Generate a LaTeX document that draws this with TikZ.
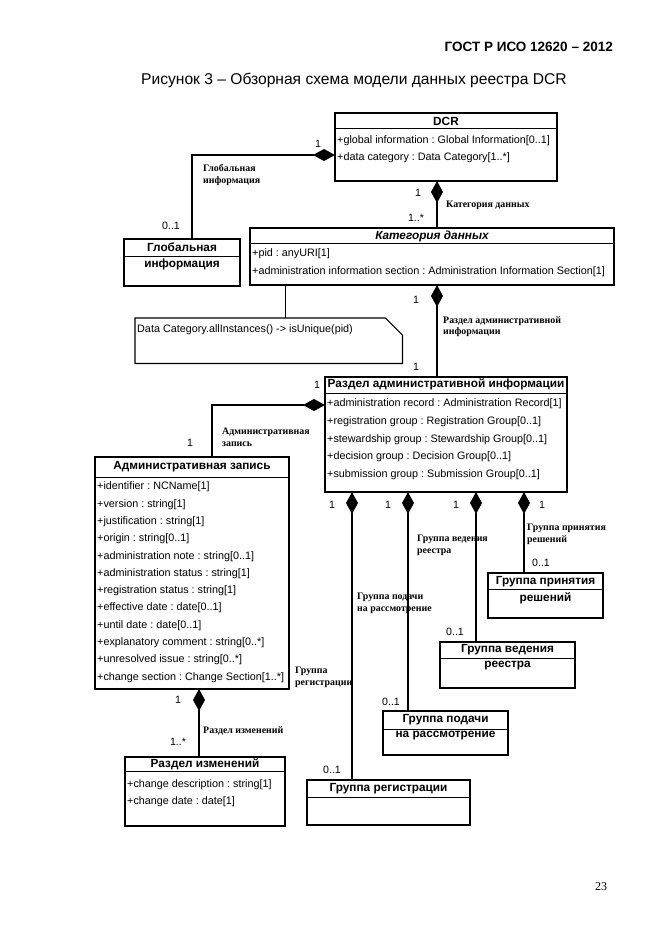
\documentclass[tikz,border=0pt]{standalone}
\usepackage{fontspec}
\setmainfont{Liberation Serif}
\setsansfont{Liberation Sans}
\usetikzlibrary{arrows.meta,calc}
\frenchspacing
\newcommand\attrf{\fontsize{10.8}{12}\selectfont\sffamily\frenchspacing}
\newcommand\titf{\fontsize{11.8}{13}\selectfont\sffamily\bfseries}
\newcommand\lblf{\fontsize{9.9}{11.8}\selectfont\rmfamily\bfseries}
\newcommand\multf{\fontsize{10.6}{12}\selectfont\sffamily}
\newcommand\headf{\fontsize{13.5}{15}\selectfont\sffamily\bfseries}
\newcommand\capf{\fontsize{15.6}{18}\selectfont\sffamily}
\newcommand\pagenf{\fontsize{12}{14}\selectfont\rmfamily}
\begin{document}
\begin{tikzpicture}[x=1pt,y=-1pt,
  box/.style={draw, line width=1.4pt, anchor=north west, inner sep=0pt, outer sep=0pt},
  sepl/.style={line width=1pt},
  attr/.style={font=\attrf, anchor=west, inner sep=0pt},
  ttl/.style={font=\titf, inner sep=0pt},
  lbl/.style={font=\lblf, anchor=north west, inner sep=0pt, align=left},
  mult/.style={font=\multf, inner sep=0pt},
  conn/.style={line width=1.3pt},
  comp/.style={conn, {Diamond[length=22pt,width=12pt]}-}
]
\fill[white] (0,0) rectangle (661,935);
\useasboundingbox (0,0) rectangle (661,935);

% header & caption
\node[font=\headf, anchor=east, inner sep=0pt] (hdr) at (613,47) {ГОСТ Р ИСО 12620 – 2012};
\node[font=\capf, anchor=west, inner sep=0pt] (cap) at (141,80) {Рисунок 3 – Обзорная схема модели данных реестра DCR};
\node[font=\pagenf, inner sep=0pt] (pgn) at (601,887) {23};

% DCR
\node[box, minimum width=222pt, minimum height=68pt] (dcr) at (335,113) {};
\draw[sepl] ($(dcr.north west)+(0,15)$) -- ($(dcr.north east)+(0,15)$);
\node[ttl] (dcrt) at ($(dcr.north)+(0,8)$) {DCR};
\node[attr] (dcra1) at ($(dcr.north west)+(2,28)$) {+global information : Global Information[0..1]};
\node[attr] (dcra2) at ($(dcr.north west)+(2,45)$) {+data category : Data Category[1..*]};

% Global information
\node[box, minimum width=116pt, minimum height=47pt] (glob) at (124,239) {};
\draw[sepl] ($(glob.north west)+(0,17)$) -- ($(glob.north east)+(0,17)$);
\node[ttl] (globt1) at ($(glob.north)+(0,8.5)$) {Глобальная};
\node[ttl] (globt2) at ($(glob.north)+(0,25.5)$) {информация};

% Data category
\node[box, minimum width=364pt, minimum height=57pt] (cat) at (250,228) {};
\draw[sepl] ($(cat.north west)+(0,15)$) -- ($(cat.north east)+(0,15)$);
\node[ttl, font=\titf\itshape] (catt) at ($(cat.north)+(0,8)$) {Категория данных};
\node[attr] (cata1) at ($(cat.north west)+(2,26)$) {+pid : anyURI[1]};
\node[attr] (cata2) at ($(cat.north west)+(2,44)$) {+administration information section : Administration Information Section[1]};

% Note
\node[anchor=north west, minimum width=267pt, minimum height=45pt, inner sep=0pt] (note) at (135,318) {};
\draw[line width=1.2pt] (note.north west) -- ($(note.north east)+(-17,0)$) -- ($(note.north east)+(0,17)$) -- (note.south east) -- (note.south west) -- cycle;
\node[attr] (notet) at ($(note.north west)+(2,12)$) {Data Category.allInstances() -> isUnique(pid)};

% Administration information section
\node[box, minimum width=242pt, minimum height=115pt] (ais) at (325,377) {};
\draw[sepl] ($(ais.north west)+(0,16)$) -- ($(ais.north east)+(0,16)$);
\node[ttl] (aist) at ($(ais.north)+(0,7.5)$) {Раздел административной информации};
\node[attr] (aisa1) at ($(ais.north west)+(2,27)$) {+administration record : Administration Record[1]};
\node[attr] (aisa2) at ($(ais.north west)+(2,45)$) {+registration group : Registration Group[0..1]};
\node[attr] (aisa3) at ($(ais.north west)+(2,63)$) {+stewardship group : Stewardship Group[0..1]};
\node[attr] (aisa4) at ($(ais.north west)+(2,80)$) {+decision group : Decision Group[0..1]};
\node[attr] (aisa5) at ($(ais.north west)+(2,98)$) {+submission group : Submission Group[0..1]};

% Administration record
\node[box, minimum width=194pt, minimum height=232pt] (arec) at (95,457) {};
\draw[sepl] ($(arec.north west)+(0,20)$) -- ($(arec.north east)+(0,20)$);
\node[ttl] (arect) at ($(arec.north)+(0,10)$) {Административная запись};
\node[attr] (areca1) at ($(arec.north west)+(2,30)$) {+identifier : NCName[1]};
\node[attr] (areca2) at ($(arec.north west)+(2,47.3)$) {+version : string[1]};
\node[attr] (areca3) at ($(arec.north west)+(2,64.6)$) {+justification : string[1]};
\node[attr] (areca4) at ($(arec.north west)+(2,81.9)$) {+origin : string[0..1]};
\node[attr] (areca5) at ($(arec.north west)+(2,99.2)$) {+administration note : string[0..1]};
\node[attr] (areca6) at ($(arec.north west)+(2,116.5)$) {+administration status : string[1]};
\node[attr] (areca7) at ($(arec.north west)+(2,133.8)$) {+registration status : string[1]};
\node[attr] (areca8) at ($(arec.north west)+(2,151.1)$) {+effective date : date[0..1]};
\node[attr] (areca9) at ($(arec.north west)+(2,168.4)$) {+until date : date[0..1]};
\node[attr] (areca10) at ($(arec.north west)+(2,185.7)$) {+explanatory comment : string[0..*]};
\node[attr] (areca11) at ($(arec.north west)+(2,203)$) {+unresolved issue : string[0..*]};
\node[attr] (areca12) at ($(arec.north west)+(2,220.3)$) {+change section : Change Section[1..*]};

% Change section
\node[box, minimum width=160pt, minimum height=69pt] (chg) at (125,757) {};
\draw[sepl] ($(chg.north west)+(0,14)$) -- ($(chg.north east)+(0,14)$);
\node[ttl] (chgt) at ($(chg.north)+(0,7)$) {Раздел изменений};
\node[attr] (chga1) at ($(chg.north west)+(2,28)$) {+change description : string[1]};
\node[attr] (chga2) at ($(chg.north west)+(2,45)$) {+change date : date[1]};

% Decision group
\node[box, minimum width=115pt, minimum height=45pt] (dec) at (488,573) {};
\draw[sepl] ($(dec.north west)+(0,16)$) -- ($(dec.north east)+(0,16)$);
\node[ttl] (dect1) at ($(dec.north)+(0,8.5)$) {Группа принятия};
\node[ttl] (dect2) at ($(dec.north)+(0,25)$) {решений};

% Stewardship group
\node[box, minimum width=135pt, minimum height=46pt] (stw) at (440,642) {};
\draw[sepl] ($(stw.north west)+(0,16)$) -- ($(stw.north east)+(0,16)$);
\node[ttl] (stwt1) at ($(stw.north)+(0,8)$) {Группа ведения};
\node[ttl] (stwt2) at ($(stw.north)+(0,24)$) {реестра};

% Submission group
\node[box, minimum width=125pt, minimum height=44pt] (sub) at (383,711) {};
\draw[sepl] ($(sub.north west)+(0,18)$) -- ($(sub.north east)+(0,18)$);
\node[ttl] (subt1) at ($(sub.north)+(0,9)$) {Группа подачи};
\node[ttl] (subt2) at ($(sub.north)+(0,25)$) {на рассмотрение};

% Registration group
\node[box, minimum width=163pt, minimum height=45pt] (reg) at (307,780) {};
\draw[sepl] ($(reg.north west)+(0,17)$) -- ($(reg.north east)+(0,17)$);
\node[ttl] (regt) at ($(reg.north)+(0,9)$) {Группа регистрации};

% connectors
\coordinate (dcrL) at ($(dcr.north west)+(0,42)$);
\coordinate (gtop) at ($(glob.north)+(10,0)$);
\draw[comp] (dcrL) -| (gtop);

\coordinate (dcrB) at ($(dcr.south)+(-9,0)$);
\draw[comp] (dcrB) -- (dcrB |- cat.north);

\coordinate (catB) at ($(cat.south)+(5,0)$);
\draw[comp] (catB) -- (catB |- ais.north);

\coordinate (noteT) at ($(note.north)+(16.5,0)$);
\draw[conn] (noteT |- cat.south) -- (noteT);

\coordinate (aisL) at ($(ais.north west)+(0,28)$);
\coordinate (arecT) at ($(arec.north)+(20,0)$);
\draw[comp] (aisL) -| (arecT);

\coordinate (arecB) at ($(arec.south)+(7,0)$);
\draw[comp] (arecB) -- (arecB |- chg.north);

\coordinate (regT) at ($(reg.north)+(-36.5,0)$);
\draw[comp] (regT |- ais.south) -- (regT);
\coordinate (subT) at ($(sub.north)+(-37.5,0)$);
\draw[comp] (subT |- ais.south) -- (subT);
\coordinate (stwT) at ($(stw.north)+(-31.5,0)$);
\draw[comp] (stwT |- ais.south) -- (stwT);
\coordinate (decT) at ($(dec.north)+(-21.5,0)$);
\draw[comp] (decT |- ais.south) -- (decT);

% multiplicities
\node[mult] (m1) at (318,144) {1};
\node[mult] (m2) at (171,226) {0..1};
\node[mult] (m3) at (418,193) {1};
\node[mult] (m4) at (416,218) {1..*};
\node[mult] (m5) at (416,300) {1};
\node[mult] (m6) at (416,367) {1};
\node[mult] (m7) at (317,385) {1};
\node[mult] (m8) at (190,443) {1};
\node[mult] (m9) at (332,505) {1};
\node[mult] (m10) at (388,505) {1};
\node[mult] (m11) at (456,505) {1};
\node[mult] (m12) at (542,505) {1};
\node[mult] (m13) at (541,563) {0..1};
\node[mult] (m14) at (455,632) {0..1};
\node[mult] (m15) at (391,702) {0..1};
\node[mult] (m16) at (332,770) {0..1};
\node[mult] (m17) at (178,700) {1};
\node[mult] (m18) at (178,742) {1..*};

% role labels
\node[lbl] (l1) at (203,164) {Глобальная\\информация};
\node[lbl, anchor=west] (l2) at (446,205) {Категория данных};
\node[lbl] (l3) at (443,316) {Раздел административной\\информации};
\node[lbl] (l4) at (222,428) {Административная\\запись};
\node[lbl] (l5) at (527,524) {Группа принятия\\решений};
\node[lbl] (l6) at (417,535) {Группа ведения\\реестра};
\node[lbl] (l7) at (357,593) {Группа подачи\\на рассмотрение};
\node[lbl] (l8) at (295,667) {Группа\\регистрации};
\node[lbl, anchor=west] (l9) at (203,731) {Раздел изменений};
\end{tikzpicture}
\end{document}
